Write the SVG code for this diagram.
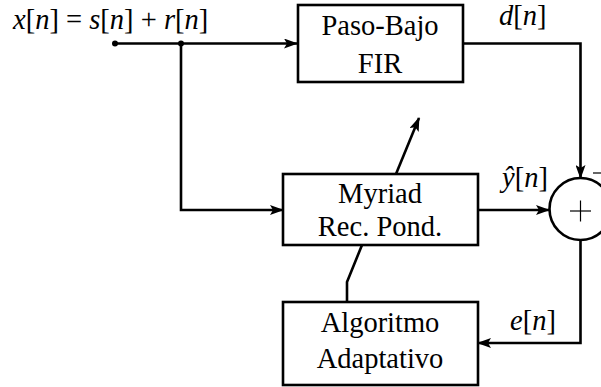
<svg xmlns="http://www.w3.org/2000/svg" width="601" height="387" viewBox="0 0 601 387">
<defs>
<marker id="ah" markerWidth="14" markerHeight="10" refX="13" refY="5" orient="auto" markerUnits="userSpaceOnUse">
<path d="M0,0 L14,5 L0,10 L3,5 Z" fill="#000"/>
</marker>
<style>
.box{fill:#fff;stroke:#000;stroke-width:2.6}
.ln{fill:none;stroke:#000;stroke-width:2.6;stroke-linejoin:miter}
.t{font-family:"Liberation Serif","Times New Roman",serif;font-size:28.5px;fill:#000}
.c{text-anchor:middle}
.i{font-style:italic}
</style>
</defs>
<rect width="601" height="387" fill="#fff"/>
<g id="connectors">
<line class="ln" x1="115" y1="43.5" x2="297" y2="43.5" marker-end="url(#ah)"/>
<polyline class="ln" points="181,43.5 181,210 283,210" marker-end="url(#ah)"/>
<polyline class="ln" points="463,43.5 580.5,43.5 580.5,178" marker-end="url(#ah)"/>
<line class="ln" x1="478" y1="210" x2="549" y2="210" marker-end="url(#ah)"/>
<polyline class="ln" points="580.5,240 580.5,343 478,343" marker-end="url(#ah)"/>
<line class="ln" x1="396" y1="174" x2="419" y2="118" marker-end="url(#ah)"/>
<polyline class="ln" points="362,245 347,282 347,302"/>
<circle cx="115" cy="43.5" r="3" fill="#000"/>
<circle cx="181" cy="43.5" r="3" fill="#000"/>
</g>
<g id="input-label">
<text class="t" x="13" y="29"><tspan class="i">x</tspan>[<tspan class="i">n</tspan>] = <tspan class="i">s</tspan>[<tspan class="i">n</tspan>] + <tspan class="i">r</tspan>[<tspan class="i">n</tspan>]</text>
</g>
<g id="fir">
<rect class="box" x="298" y="5" width="165" height="77"/>
<text class="t c" x="380" y="35">Paso-Bajo</text>
<text class="t c" x="380" y="73">FIR</text>
</g>
<g id="dn-label"><text class="t" x="499" y="25"><tspan class="i">d</tspan>[<tspan class="i">n</tspan>]</text></g>
<g id="myriad">
<rect class="box" x="283" y="174" width="195" height="71"/>
<text class="t c" x="380" y="203">Myriad</text>
<text class="t c" x="380" y="236">Rec. Pond.</text>
</g>
<g id="yn-label"><text class="t" x="502" y="187"><tspan class="i">ŷ</tspan>[<tspan class="i">n</tspan>]</text></g>
<g id="sum">
<circle cx="580.5" cy="209" r="31" fill="#fff" stroke="#000" stroke-width="2.6"/>
<line x1="570" y1="211" x2="591" y2="211" stroke="#000" stroke-width="1.2"/>
<line x1="580.5" y1="200.5" x2="580.5" y2="221.5" stroke="#000" stroke-width="1.2"/>
<line x1="593" y1="173" x2="601" y2="173" stroke="#000" stroke-width="1.2"/>
</g>
<g id="algoritmo">
<rect class="box" x="283" y="302" width="195" height="83"/>
<text class="t c" x="380" y="332">Algoritmo</text>
<text class="t c" x="380" y="368">Adaptativo</text>
</g>
<g id="en-label"><text class="t" x="510" y="330"><tspan class="i">e</tspan>[<tspan class="i">n</tspan>]</text></g>
</svg>
